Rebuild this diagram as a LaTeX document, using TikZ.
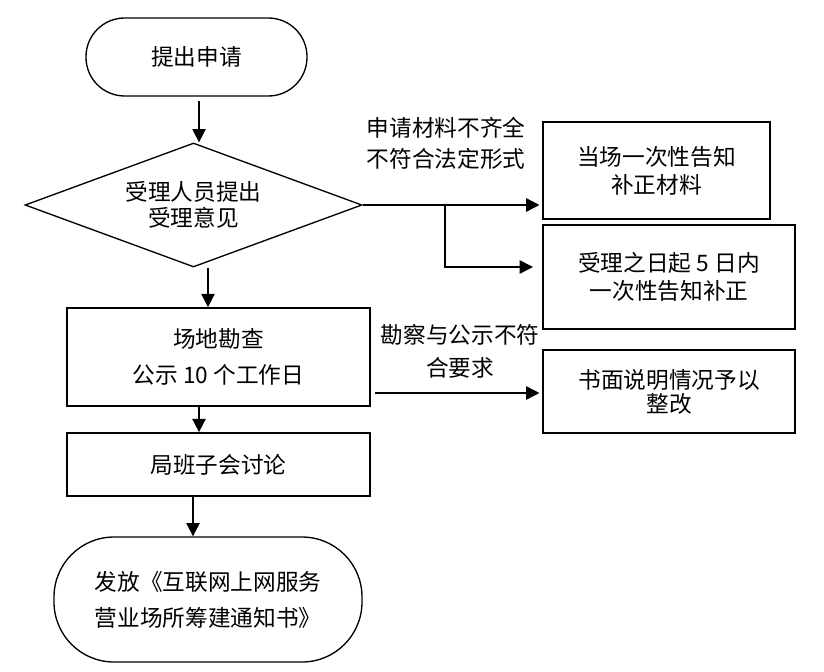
\documentclass[tikz,border=0pt]{standalone}
\usepackage{fontspec}
\setmainfont{Noto Sans CJK SC}
\usetikzlibrary{arrows.meta,shapes.geometric}

\begin{document}
\begin{tikzpicture}[x=0.75pt,y=-0.75pt,
font=\fontsize{17}{21}\selectfont,
box/.style={draw,line width=1.3pt,align=center,inner sep=0pt},
term/.style={draw,line width=1pt,align=center,inner sep=0pt},
arr/.style={-{Triangle[length=10pt,width=10pt]},line width=1.2pt}]
\useasboundingbox (0,0) rectangle (824,671);
% main column
\node[term,rounded corners=29pt,minimum width=165.75pt,minimum height=58.5pt] (apply) at (196.5,57) {提出申请};
\node[term,diamond,aspect=2.72,minimum width=252.75pt,minimum height=93pt] (judge) at (193.5,205) {受理人员提出\\[-1pt]受理意见};
\node[box,minimum width=227.25pt,minimum height=73.5pt] (survey) at (218.5,357) {场地勘查\\[6pt]公示 10 个工作日};
\node[box,minimum width=227.25pt,minimum height=47.25pt] (meet) at (218.5,464.5) {局班子会讨论};
\node[term,rounded corners=45pt,minimum width=231pt,minimum height=93.75pt] (issue) at (208,599.5) {发放《互联网上网服务\\[6pt]营业场所筹建通知书》};
% right column
\node[box,minimum width=170.25pt,minimum height=72.75pt] (fixnow) at (656.5,170.5) {当场一次性告知\\补正材料};
\node[box,minimum width=189pt,minimum height=78pt] (fixlater) at (669,277) {受理之日起 5 日内\\一次性告知补正};
\node[box,minimum width=189pt,minimum height=62.25pt] (rectify) at (669,391.5) {书面说明情况予以\\[-3pt]整改};
\node[align=center] (lackmat) at (446,143) {申请材料不齐全\\[2pt]不符合法定形式};
\node[align=center] (mismatch) at (460,351.5) {勘察与公示不符\\[4pt]合要求};
\coordinate (a0) at (199,101);
\coordinate (a1) at (208,268);
\coordinate (a2) at (199,407);
\coordinate (a3) at (193,496);
\coordinate (br) at (445,205);
\coordinate (b2) at (533,267);
\coordinate (c1) at (375,393);
\draw[arr] (a0) -- (a0 |- judge.north);
\draw[arr] (a1) -- (a1 |- survey.north);
\draw[arr] (a2) -- (a2 |- meet.north);
\draw[arr] (a3) -- (a3 |- issue.north);
\draw[arr,shorten >=2pt] (judge.east) -- (judge.east -| fixnow.west);
\draw[arr] (br) |- (b2);
\draw[arr,shorten >=2pt] (c1) -- (c1 -| rectify.west);
\end{tikzpicture}
\end{document}
